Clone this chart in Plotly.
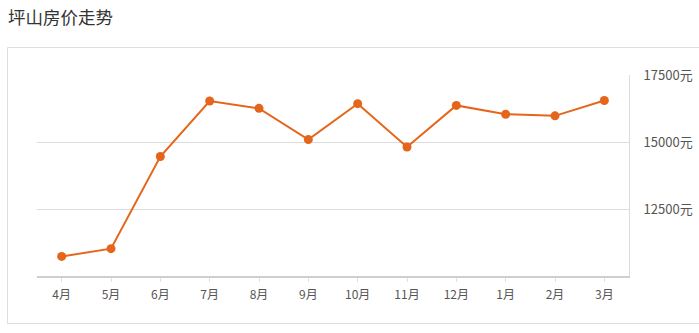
import plotly.graph_objects as go

W, H = 699, 333

months = ["4月", "5月", "6月", "7月", "8月", "9月", "10月", "11月", "12月", "1月", "2月", "3月"]
prices = [10730, 11020, 14460, 16530, 16255, 15090, 16430, 14815, 16365, 16035, 15975, 16550]
y_ticks = [12500, 15000, 17500]
y_tick_labels = ["12500元", "15000元", "17500元"]
title_text = "坪山房价走势"

FONT = "Noto Sans CJK SC, Noto Sans, sans-serif"
LINE_COLOR = "#e5661a"

def px_x(p):
    return p / W

def px_y(p):
    return 1 - p / H

fig = go.Figure()
fig.add_trace(go.Scatter(
    x=months, y=prices, mode="lines+markers",
    line=dict(color=LINE_COLOR, width=2),
    marker=dict(color=LINE_COLOR, size=9),
    showlegend=False, cliponaxis=False,
))

fig.update_layout(
    template="none",
    width=W, height=H,
    margin=dict(l=0, r=0, t=0, b=0, pad=0),
    paper_bgcolor="white", plot_bgcolor="white",
    font=dict(family=FONT, color="#555", size=12),
    xaxis=dict(
        domain=[px_x(37), px_x(629)],
        type="category", range=[-0.5, 11.5],
        showline=True, linecolor="#cfcfcf", linewidth=2,
        ticks="outside", ticklen=4, tickcolor="#e0e0e0", tickwidth=1,
        showgrid=False, zeroline=False,
        ticklabelstandoff=3,
        tickfont=dict(size=12, color="#555"),
        automargin=False, fixedrange=True,
    ),
    yaxis=dict(
        domain=[px_y(276), px_y(75)],
        range=[10000, 17500], side="right",
        tickvals=y_ticks, ticktext=y_tick_labels,
        showgrid=True, gridcolor="#dcdcdc", gridwidth=1,
        showline=True, linecolor="#dcdcdc", linewidth=1,
        zeroline=False, ticks="",
        ticklabelstandoff=11,
        tickfont=dict(size=13, color="#555"),
        automargin=False, fixedrange=True,
    ),
    shapes=[dict(
        type="rect", xref="paper", yref="paper",
        x0=px_x(7.5), x1=px_x(705), y0=px_y(323.5), y1=px_y(47.5),
        line=dict(color="#dedede", width=1), fillcolor="rgba(0,0,0,0)",
        layer="below",
    )],
    annotations=[dict(
        text=title_text, xref="paper", yref="paper",
        x=px_x(6), y=px_y(17), xanchor="left", yanchor="middle",
        showarrow=False, font=dict(size=17.5, color="#333", family=FONT),
    )],
)

fig.write_html("out.html")
